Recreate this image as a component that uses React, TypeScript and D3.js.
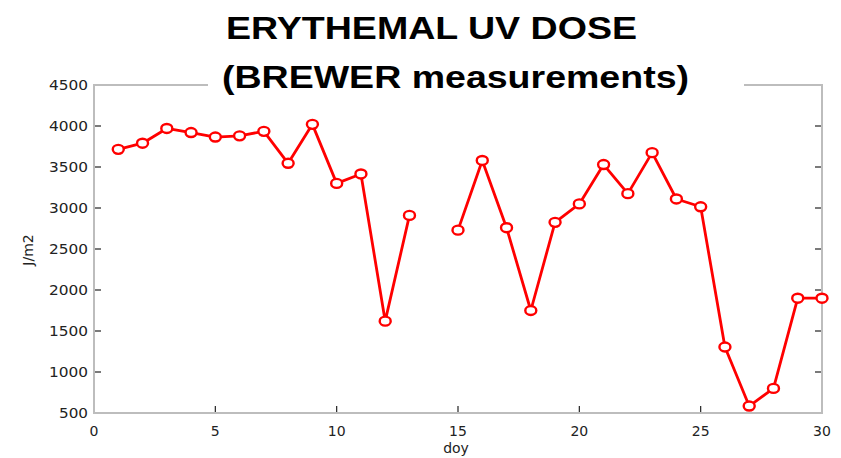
import React, { useEffect, useRef } from 'react';
import * as d3 from 'd3';

// daily erythemal UV dose (J/m2), day 14 missing
const days = [1, 2, 3, 4, 5, 6, 7, 8, 9, 10, 11, 12, 13, 14, 15, 16, 17, 18, 19, 20, 21, 22, 23, 24, 25, 26, 27, 28, 29, 30];
const doses: (number | null)[] = [
    3715, 3790, 3970, 3920, 3865, 3880, 3935, 3545, 4020, 3300, 3415, 1620, 2910, null,
    2730, 3580, 2760, 1750, 2825, 3050, 3530, 3175, 3675, 3110, 3015, 1305, 585, 800, 1900, 1900,
];
const xTicks = [0, 5, 10, 15, 20, 25, 30];
const yTicks = [500, 1000, 1500, 2000, 2500, 3000, 3500, 4000, 4500];
const titleLines = ['ERYTHEMAL UV DOSE', '(BREWER measurements)'];

const App = () => {
    const ref = useRef<SVGSVGElement>(null);

    useEffect(() => {
        document.body.style.margin = '0';
        const svg = d3.select(ref.current);
        svg.selectAll('*').remove();

        const x = d3.scaleLinear().domain([0, 30]).range([94, 822]);
        const y = d3.scaleLinear().domain([500, 4500]).range([413, 85]);
        const tickLen = 7;
        const font = 'DejaVu Sans, Arial, sans-serif';

        // ticks (inward, on all four sides)
        const ticks = svg.append('g').attr('stroke', '#222').attr('stroke-width', 1.2);
        xTicks.forEach(t => {
            ticks.append('line').attr('x1', x(t)).attr('x2', x(t)).attr('y1', y(500)).attr('y2', y(500) - tickLen);
            ticks.append('line').attr('x1', x(t)).attr('x2', x(t)).attr('y1', y(4500)).attr('y2', y(4500) + tickLen);
        });
        yTicks.forEach(t => {
            ticks.append('line').attr('x1', x(0)).attr('x2', x(0) + tickLen).attr('y1', y(t)).attr('y2', y(t));
            ticks.append('line').attr('x1', x(30)).attr('x2', x(30) - tickLen).attr('y1', y(t)).attr('y2', y(t));
        });

        // box
        svg.append('rect')
            .attr('x', x(0)).attr('y', y(4500))
            .attr('width', x(30) - x(0)).attr('height', y(500) - y(4500))
            .attr('fill', 'none').attr('stroke', '#bdbdbd').attr('stroke-width', 2);

        // tick labels
        svg.append('g').selectAll('text').data(xTicks).join('text')
            .attr('x', d => x(d)).attr('y', 436)
            .attr('text-anchor', 'middle')
            .attr('font-family', font).attr('font-size', 14).attr('fill', '#222')
            .text(d => d);
        svg.append('g').selectAll('text').data(yTicks).join('text')
            .attr('x', 88).attr('y', d => y(d) + 5)
            .attr('text-anchor', 'end')
            .attr('font-family', font).attr('font-size', 14).attr('fill', '#222')
            .attr('textLength', d => String(d).length * 10 - 1).attr('lengthAdjust', 'spacingAndGlyphs')
            .text(d => d);

        // axis titles
        svg.append('text')
            .attr('x', 456).attr('y', 453).attr('text-anchor', 'middle')
            .attr('font-family', font).attr('font-size', 14).attr('fill', '#222')
            .text('doy');
        svg.append('text')
            .attr('transform', 'translate(33,250) rotate(-90)').attr('text-anchor', 'middle')
            .attr('font-family', font).attr('font-size', 14).attr('fill', '#222')
            .text('J/m2');

        // title, with a white backing over the top border
        svg.append('rect').attr('x', 208).attr('y', 0).attr('width', 536).attr('height', 100).attr('fill', 'white');
        const tl = [
            { x: 226, y: 39, len: 411 },
            { x: 222, y: 88, len: 467 },
        ];
        titleLines.forEach((s, i) => {
            svg.append('text')
                .attr('x', tl[i].x).attr('y', tl[i].y)
                .attr('font-family', 'Liberation Sans, Arial, sans-serif')
                .attr('font-weight', 'bold').attr('font-size', 32).attr('fill', '#000')
                .attr('textLength', tl[i].len).attr('lengthAdjust', 'spacingAndGlyphs')
                .text(s);
        });

        // series
        const pts = days.map((d, i) => ({ day: d, value: doses[i] }));
        const line = d3.line<{ day: number; value: number | null }>()
            .defined(d => d.value !== null)
            .x(d => x(d.day))
            .y(d => y(d.value as number));

        svg.append('path')
            .datum(pts)
            .attr('d', line)
            .attr('fill', 'none')
            .attr('stroke', '#ff0000')
            .attr('stroke-width', 2.8)
            .attr('stroke-linejoin', 'round');

        svg.append('g').selectAll('ellipse').data(pts.filter(d => d.value !== null)).join('ellipse')
            .attr('cx', d => x(d.day)).attr('cy', d => y(d.value as number))
            .attr('rx', 5.5).attr('ry', 4.5)
            .attr('fill', 'white')
            .attr('stroke', '#ff0000')
            .attr('stroke-width', 2.4);
    }, []);

    return (
        <div>
            <svg ref={ref} width={841} height={458} style={{ display: 'block', background: 'white' }}></svg>
        </div>
    );
};

export default App;
